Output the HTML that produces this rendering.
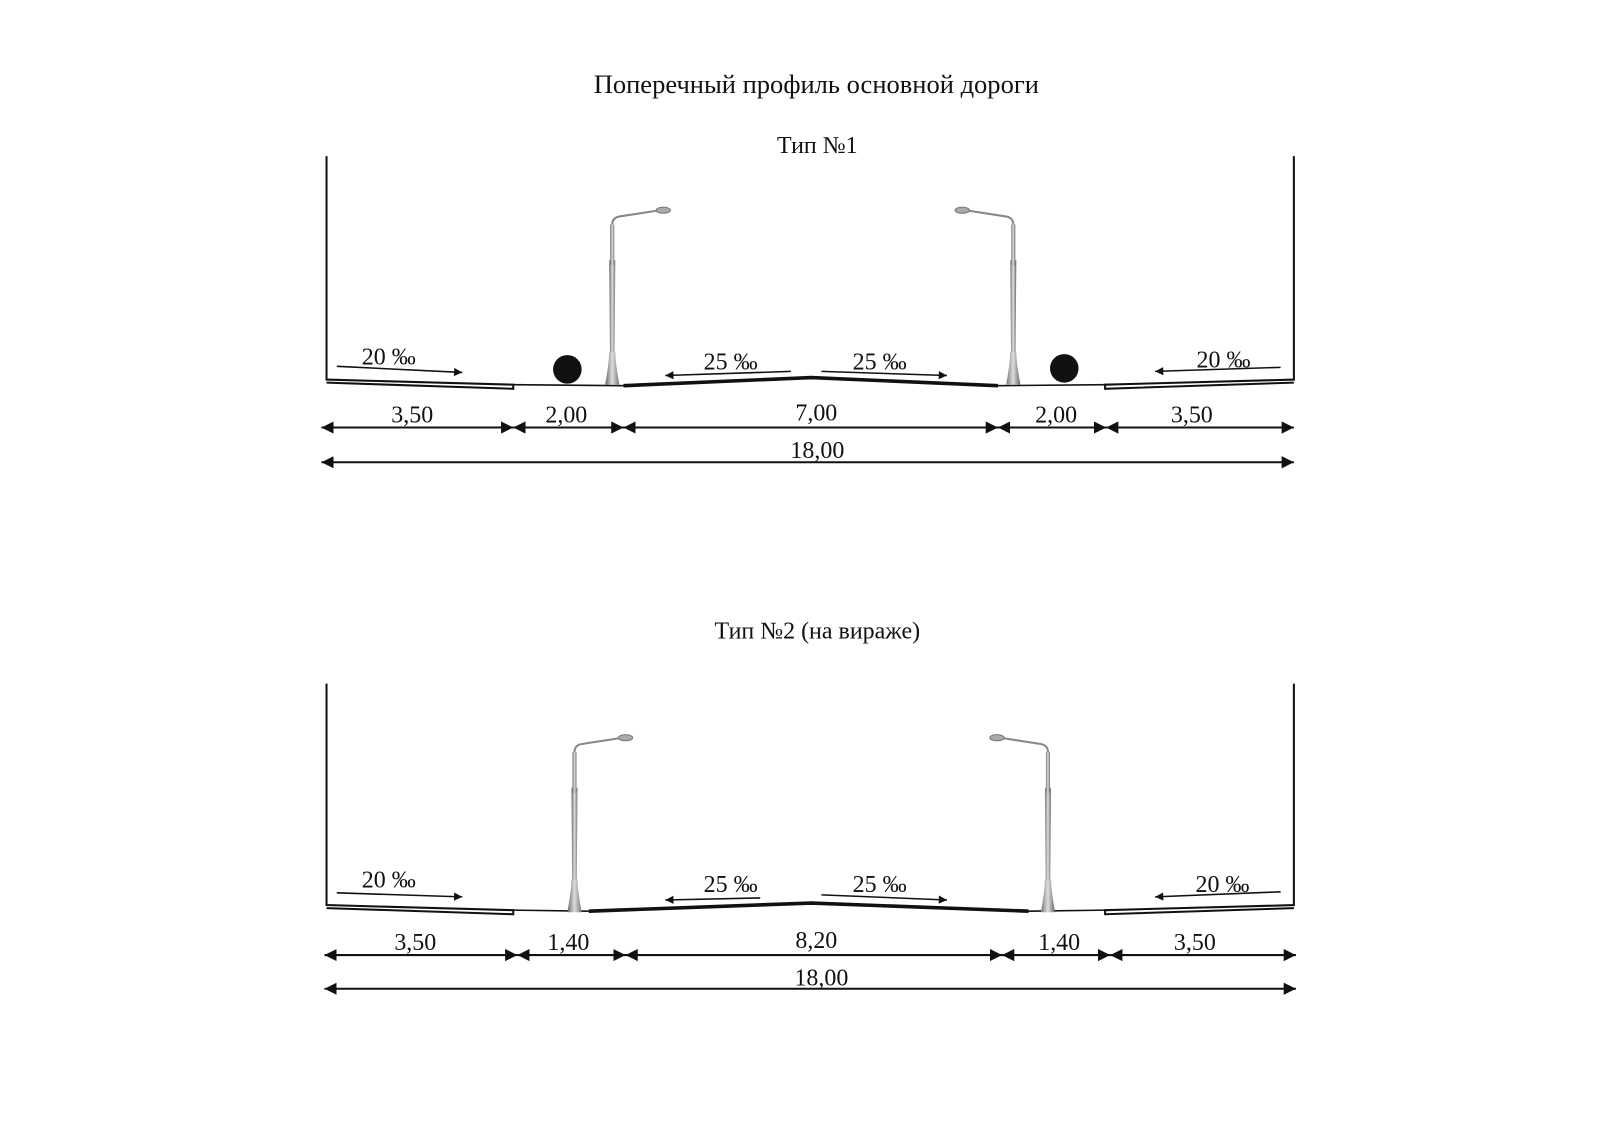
<!DOCTYPE html>
<html><head><meta charset="utf-8"><style>html,body{margin:0;padding:0;background:#fff}svg{display:block}text{font-family:"Liberation Serif",serif;fill:#111}</style></head><body>
<svg width="1600" height="1132" viewBox="0 0 1568 1109.4" preserveAspectRatio="none" xmlns="http://www.w3.org/2000/svg">
<defs>
<marker id="ah" viewBox="0 0 10 10" refX="10" refY="5" markerWidth="10" markerHeight="8" orient="auto-start-reverse" markerUnits="userSpaceOnUse"><path d="M0,0 L10,5 L0,10 z" fill="#111"/></marker>
<marker id="dh" viewBox="0 0 10 10" refX="10" refY="5" markerWidth="12" markerHeight="12" orient="auto-start-reverse" markerUnits="userSpaceOnUse"><path d="M0,0 L10,5 L0,10 z" fill="#111"/></marker>
<linearGradient id="pg" x1="0" x2="1"><stop offset="0" stop-color="#666"/><stop offset="0.5" stop-color="#ddd"/><stop offset="1" stop-color="#777"/></linearGradient>
<g id="lampL">
<path d="M-2,0 L-3,-120 L3,-120 L2,0" fill="url(#pg)"/>
<path d="M-7,2 Q-3,-20 -3,-30 L3,-30 Q3,-20 7,2 z" fill="url(#pg)"/>
<path d="M0,-150 L0,-155 Q0,-162 8,-163 L47,-169" fill="none" stroke="#888" stroke-width="2"/>
<rect x="-2" y="-155" width="4" height="40" fill="url(#pg)"/>
<ellipse cx="50" cy="-169" rx="7" ry="3" fill="#aaa" stroke="#777"/>
</g>
<g id="lampR"><use href="#lampL" transform="scale(-1,1)"/></g>
</defs>
<text x="800" y="91" font-size="26" text-anchor="middle">Поперечный профиль основной дороги</text>
<text x="801" y="150" font-size="23.5" text-anchor="middle">Тип №1</text>
<g stroke="#111" fill="none">
<path d="M320,153 V372 L503,377 V381 L320,375" stroke-width="2"/>
<path d="M1268,153 V372 L1083,377 V381 L1268,375" stroke-width="2"/>
<path d="M503,377 L611,378 M978,378 L1083,377" stroke-width="1.5"/>
<path d="M611,378 L795,370 L978,378" stroke-width="3.5"/>
<path d="M330,359 L453,365" stroke-width="1.5" marker-end="url(#ah)"/>
<path d="M775,364 L652,368" stroke-width="1.5" marker-end="url(#ah)"/>
<path d="M805,364 L928,368" stroke-width="1.5" marker-end="url(#ah)"/>
<path d="M1255,360 L1132,364" stroke-width="1.5" marker-end="url(#ah)"/>
<g stroke-width="2">
<path d="M315,419 L503,419" marker-start="url(#dh)" marker-end="url(#dh)"/>
<path d="M503,419 L611,419" marker-start="url(#dh)" marker-end="url(#dh)"/>
<path d="M611,419 L978,419" marker-start="url(#dh)" marker-end="url(#dh)"/>
<path d="M978,419 L1084,419" marker-start="url(#dh)" marker-end="url(#dh)"/>
<path d="M1084,419 L1268,419" marker-start="url(#dh)" marker-end="url(#dh)"/>
<path d="M315,453 L1268,453" marker-start="url(#dh)" marker-end="url(#dh)"/>
</g>
</g>
<use href="#lampL" x="600" y="375"/>
<use href="#lampR" x="993" y="375"/>
<circle cx="556" cy="362" r="14" fill="#111"/>
<circle cx="1043" cy="361" r="14" fill="#111"/>
<g font-size="23.5" text-anchor="middle">
<text x="381" y="357">20 ‰</text><text x="716" y="362">25 ‰</text><text x="862" y="362">25 ‰</text><text x="1199" y="360">20 ‰</text>
<text x="404" y="414">3,50</text><text x="555" y="414">2,00</text><text x="800" y="412">7,00</text><text x="1035" y="414">2,00</text><text x="1168" y="414">3,50</text>
<text x="801" y="449">18,00</text>
</g>

<text x="801" y="626" font-size="23.5" text-anchor="middle">Тип №2 (на вираже)</text>
<g stroke="#111" fill="none">
<path d="M320,670 V887 L503,892 V896 L320,890" stroke-width="2"/>
<path d="M1268,670 V887 L1083,892 V896 L1268,890" stroke-width="2"/>
<path d="M503,892 L577,893 M1008,893 L1083,892" stroke-width="1.5"/>
<path d="M577,893 L795,885 L1008,893" stroke-width="3.5"/>
<path d="M330,875 L453,879" stroke-width="1.5" marker-end="url(#ah)"/>
<path d="M745,880 L652,882" stroke-width="1.5" marker-end="url(#ah)"/>
<path d="M805,877 L928,882" stroke-width="1.5" marker-end="url(#ah)"/>
<path d="M1255,874 L1132,879" stroke-width="1.5" marker-end="url(#ah)"/>
<g stroke-width="2">
<path d="M318,936 L507,936" marker-start="url(#dh)" marker-end="url(#dh)"/>
<path d="M507,936 L613,936" marker-start="url(#dh)" marker-end="url(#dh)"/>
<path d="M613,936 L982,936" marker-start="url(#dh)" marker-end="url(#dh)"/>
<path d="M982,936 L1088,936" marker-start="url(#dh)" marker-end="url(#dh)"/>
<path d="M1088,936 L1270,936" marker-start="url(#dh)" marker-end="url(#dh)"/>
<path d="M318,969 L1270,969" marker-start="url(#dh)" marker-end="url(#dh)"/>
</g>
</g>
<use href="#lampL" x="563" y="892"/>
<use href="#lampR" x="1027" y="892"/>
<g font-size="23.5" text-anchor="middle">
<text x="381" y="870">20 ‰</text><text x="716" y="874">25 ‰</text><text x="862" y="874">25 ‰</text><text x="1198" y="874">20 ‰</text>
<text x="407" y="931">3,50</text><text x="557" y="931">1,40</text><text x="800" y="929">8,20</text><text x="1038" y="931">1,40</text><text x="1171" y="931">3,50</text>
<text x="805" y="966">18,00</text>
</g>
</svg>
</body></html>
